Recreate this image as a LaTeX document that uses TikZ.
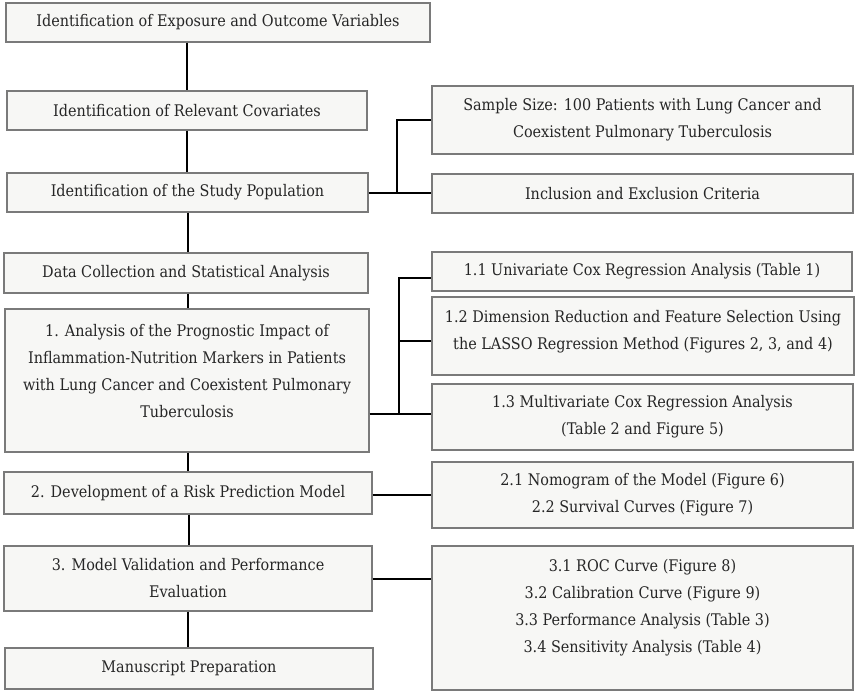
\documentclass[tikz,border=0pt]{standalone}
\usepackage{fontspec}
\setmainfont{DejaVu Serif Condensed}
\definecolor{boxfill}{HTML}{F7F7F5}
\definecolor{boxline}{HTML}{7A7A7A}
\definecolor{txt}{HTML}{262626}
\begin{document}
\begin{tikzpicture}[x=1pt,y=-1pt,
  box/.style={draw=boxline,line width=1.4pt,fill=boxfill,rectangle,inner sep=0pt,
    align=center,text=txt,font=\fontsize{16}{27}\selectfont},
  lbl/.style={inner sep=0pt,align=center,text=txt,font=\fontsize{16}{27}\selectfont},
  conn/.style={draw=black,line width=2pt}]
\useasboundingbox (0,0) rectangle (858,696);
% left column
\node[box,minimum width=424,minimum height=39] (expo) at (218,22.5) {Identification of Exposure and Outcome Variables};
\node[box,minimum width=360,minimum height=39] (cov) at (187,110.5) {Identification of Relevant Covariates};
\node[box,minimum width=361,minimum height=39] (pop) at (187.5,192.5) {Identification of the Study Population};
\node[box,minimum width=364,minimum height=40] (data) at (186,273) {Data Collection and Statistical Analysis};
\node[box,minimum width=364,minimum height=143] (ana) at (187,380.5) {};
\node[lbl] (anaT) at ([yshift=9pt]ana.center) {1. Analysis of the Prognostic Impact of\\Inflammation-Nutrition Markers in Patients\\with Lung Cancer and Coexistent Pulmonary\\Tuberculosis};
\node[box,minimum width=368,minimum height=42] (dev) at (188,493) {2. Development of a Risk Prediction Model};
\node[box,minimum width=368,minimum height=65] (val) at (188,578.5) {3. Model Validation and Performance\\Evaluation};
\node[box,minimum width=368,minimum height=41] (man) at (189,668.5) {Manuscript Preparation};
% right column
\node[box,minimum width=421,minimum height=68] (size) at (642.5,120) {Sample Size: 100 Patients with Lung Cancer and\\Coexistent Pulmonary Tuberculosis};
\node[box,minimum width=421,minimum height=39] (incl) at (642.5,193.5) {Inclusion and Exclusion Criteria};
\node[box,minimum width=420,minimum height=39] (uni) at (642,271.5) {1.1 Univariate Cox Regression Analysis (Table 1)};
\node[box,minimum width=422,minimum height=78] (lasso) at (643,336) {};
\node[lbl] (lassoT) at ([yshift=4.5pt]lasso.center) {1.2 Dimension Reduction and Feature Selection Using\\the LASSO Regression Method (Figures 2, 3, and 4)};
\node[box,minimum width=421,minimum height=66] (multi) at (642.5,417) {1.3 Multivariate Cox Regression Analysis\\(Table 2 and Figure 5)};
\node[box,minimum width=421,minimum height=66] (nomo) at (642.5,495) {2.1 Nomogram of the Model (Figure 6)\\2.2 Survival Curves (Figure 7)};
\node[box,minimum width=421,minimum height=144] (roc) at (642.5,618) {};
\node[lbl] (rocT) at ([yshift=10.5pt]roc.center) {3.1 ROC Curve (Figure 8)\\3.2 Calibration Curve (Figure 9)\\3.3 Performance Analysis (Table 3)\\3.4 Sensitivity Analysis (Table 4)};
% vertical spine
\draw[conn] (cov.north |- expo.south) -- (cov.north);
\draw[conn] (cov.south) -- (cov.south |- pop.north);
\draw[conn] (pop.south) -- (pop.south |- data.north);
\draw[conn] ([xshift=2pt]data.south) -- ([xshift=2pt]data.south |- ana.north);
\draw[conn] ([xshift=1pt]ana.south) -- ([xshift=1pt]ana.south |- dev.north);
\draw[conn] ([xshift=1pt]dev.south) -- ([xshift=1pt]dev.south |- val.north);
\draw[conn] (val.south) -- (val.south |- man.north);
% branches
\coordinate (j1) at (397,192.5);
\draw[conn] (pop.east) -- (incl.west |- pop.east);
\draw[conn] (j1) |- (size.west);
\coordinate (j2) at (399,414);
\coordinate (j3) at (399,278);
\coordinate (j4) at (399,341);
\draw[conn] (ana.east |- j2) -- (multi.west |- j2);
\draw[conn] (j2) -- (j3) -- (uni.west |- j3);
\draw[conn] (j4) -- (lasso.west |- j4);
\draw[conn] (dev.east |- nomo.west) -- (nomo.west);
\draw[conn] (val.east) -- (roc.west |- val.east);
\end{tikzpicture}
\end{document}
